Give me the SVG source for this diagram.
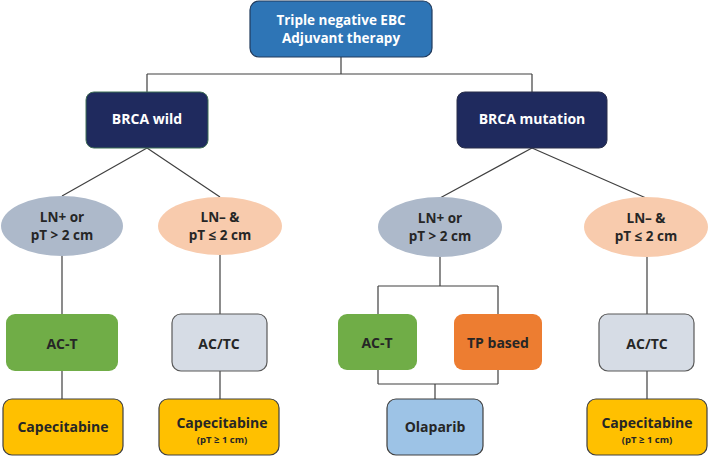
<svg xmlns="http://www.w3.org/2000/svg" width="709" height="456" viewBox="0 0 709 456">
<style>
text{font-family:"Open Sans","Liberation Sans",sans-serif;font-weight:bold;text-anchor:middle;fill:#262626;font-size:14px}
.t{font-size:13.5px}
.w{fill:#ffffff}
.s{font-size:9.5px}
.ln{stroke:#404040;stroke-width:1.2;fill:none}
</style>
<rect width="709" height="456" fill="#ffffff"/>
<g id="connectors" class="ln">
<path d="M341 57V74M147 74H532M147 74V92M532 74V92"/>
<path d="M147 148L62 196M147 148L220 197"/>
<path d="M532 148L440 198M532 148L646 198"/>
<path d="M62 256V314M62 371V399"/>
<path d="M220 255V314M220 371V399"/>
<path d="M440 257V286M378 286H498M378 286V384M498 286V384M378 384H498M435 384V399"/>
<path d="M647 257V314M647 371V399"/>
</g>
<g id="root">
<rect x="250" y="1" width="182" height="56" rx="9" fill="#2e75b6" stroke="#203a5c" stroke-width="1.2"/>
<text class="w t" x="341" y="24.5">Triple negative EBC</text>
<text class="w t" x="341" y="42.5">Adjuvant therapy</text>
</g>
<g id="brca-wild">
<rect x="86" y="92" width="122" height="56" rx="8" fill="#1f2a5e" stroke="#3f6e55" stroke-width="1"/>
<text class="w" x="147" y="124">BRCA wild</text>
</g>
<g id="brca-mutation">
<rect x="457" y="92" width="150" height="56" rx="8" fill="#1f2a5e" stroke="#2a2f4a" stroke-width="1"/>
<text class="w" x="532" y="124">BRCA mutation</text>
</g>
<g id="wild-ln-pos">
<ellipse cx="62" cy="226" rx="61" ry="30" fill="#adb9ca"/>
<text class="t" x="62" y="221.5">LN+ or</text>
<text class="t" x="62" y="239.5">pT &gt; 2 cm</text>
</g>
<g id="wild-ln-neg">
<ellipse cx="220" cy="226" rx="62" ry="29" fill="#f8cbad"/>
<text class="t" x="220" y="221.5">LN– &amp;</text>
<text class="t" x="220" y="239.5">pT ≤ 2 cm</text>
</g>
<g id="mut-ln-pos">
<ellipse cx="440" cy="227" rx="62" ry="30" fill="#adb9ca"/>
<text class="t" x="440" y="222.5">LN+ or</text>
<text class="t" x="440" y="240.5">pT &gt; 2 cm</text>
</g>
<g id="mut-ln-neg">
<ellipse cx="646" cy="227" rx="62" ry="30" fill="#f8cbad"/>
<text class="t" x="646" y="222.5">LN– &amp;</text>
<text class="t" x="646" y="240.5">pT ≤ 2 cm</text>
</g>
<g id="wild-act">
<rect x="6" y="314" width="112" height="57" rx="9" fill="#70ad47"/>
<text x="62" y="349">AC-T</text>
</g>
<g id="wild-actc">
<rect x="172" y="314" width="95" height="57" rx="9" fill="#d6dce5" stroke="#595959" stroke-width="1.2"/>
<text x="219" y="349">AC/TC</text>
</g>
<g id="wild-cape1">
<rect x="3" y="399" width="120" height="56" rx="9" fill="#ffc000" stroke="#404040" stroke-width="1.2"/>
<text x="63" y="432">Capecitabine</text>
</g>
<g id="wild-cape2">
<rect x="159" y="399" width="120" height="56" rx="9" fill="#ffc000" stroke="#404040" stroke-width="1.2"/>
<text x="222" y="428">Capecitabine</text>
<text class="s" x="222" y="443">(pT ≥ 1 cm)</text>
</g>
<g id="mut-act">
<rect x="338" y="314" width="79" height="56" rx="9" fill="#70ad47"/>
<text x="377" y="348">AC-T</text>
</g>
<g id="mut-tp">
<rect x="454" y="314" width="88" height="56" rx="9" fill="#ed7d31"/>
<text x="498" y="348">TP based</text>
</g>
<g id="mut-olaparib">
<rect x="387" y="399" width="96" height="56" rx="9" fill="#9dc3e6" stroke="#404040" stroke-width="1.2"/>
<text x="435" y="432">Olaparib</text>
</g>
<g id="mut-actc">
<rect x="599" y="314" width="95" height="57" rx="9" fill="#d6dce5" stroke="#595959" stroke-width="1.2"/>
<text x="647" y="349">AC/TC</text>
</g>
<g id="mut-cape">
<rect x="587" y="399" width="120" height="56" rx="9" fill="#ffc000" stroke="#404040" stroke-width="1.2"/>
<text x="647" y="428">Capecitabine</text>
<text class="s" x="647" y="443">(pT ≥ 1 cm)</text>
</g>
</svg>
